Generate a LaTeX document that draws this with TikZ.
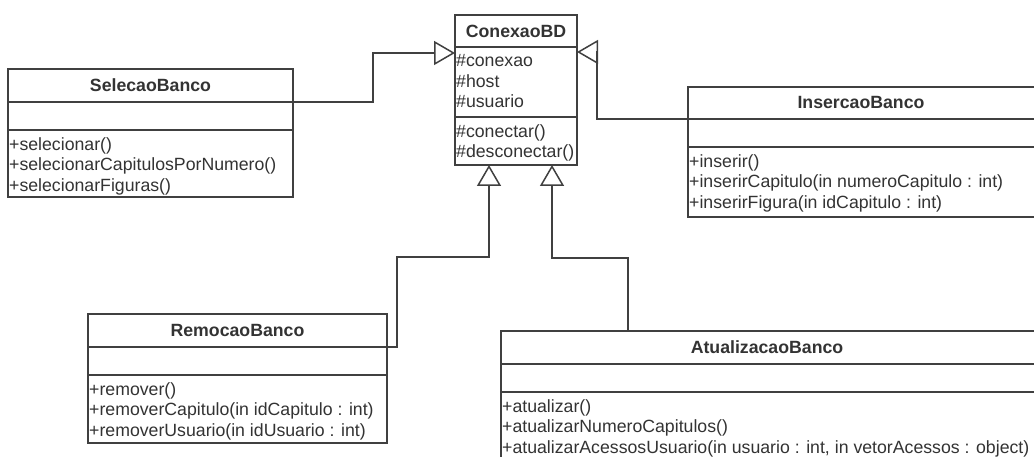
\documentclass[tikz,border=0pt]{standalone}
\usepackage{fontspec}
\setmainfont{Liberation Sans}
\usetikzlibrary{arrows.meta}

\begin{document}
\begin{tikzpicture}[x=1pt, y=-1pt, font=\fontsize{17.7}{20.7}\selectfont]
  \definecolor{ink}{HTML}{404040}
  \definecolor{txt}{HTML}{333333}
  \tikzset{
    classbox/.style={draw=ink, line width=1.5pt, fill=white, anchor=north west, inner sep=0pt, outer sep=0pt},
    classname/.style={font=\fontsize{17.7}{20.7}\selectfont\bfseries, text=txt},
    members/.style={anchor=north west, align=left, inner sep=0pt, text=txt},
    divider/.style={draw=ink, line width=1.5pt},
    generalization/.style={draw=ink, line width=1.5pt, -{Triangle[open, length=21pt, width=24pt]}}
  }
  \useasboundingbox (0,0) rectangle (1034,457);
  \clip (0,0) rectangle (1034,457);
  \fill[white] (0,0) rectangle (1034,457);

  % base class
  \node[classbox, minimum width=122pt, minimum height=150pt] (conexao) at (455,15) {};
  \node[classname] (conexaoName) at ([yshift=-16pt]conexao.north) {ConexaoBD};
  \draw[divider] ([yshift=-32pt]conexao.north west) -- ([yshift=-32pt]conexao.north east);
  \draw[divider] ([yshift=-102pt]conexao.north west) -- ([yshift=-102pt]conexao.north east);
  \node[members] (conexaoAttrs) at ([xshift=1pt, yshift=-39pt]conexao.north west) {\#conexao\\\#host\\\#usuario};
  \node[members] (conexaoOps) at ([xshift=1pt, yshift=-109pt]conexao.north west) {\#conectar()\\\#desconectar()};

  % selecao
  \node[classbox, minimum width=285pt, minimum height=128pt] (selecao) at (8,69) {};
  \node[classname] (selecaoName) at ([yshift=-16.5pt]selecao.north) {SelecaoBanco};
  \draw[divider] ([yshift=-33pt]selecao.north west) -- ([yshift=-33pt]selecao.north east);
  \draw[divider] ([yshift=-61pt]selecao.north west) -- ([yshift=-61pt]selecao.north east);
  \node[members] (selecaoOps) at ([xshift=1pt, yshift=-68pt]selecao.north west) {+selecionar()\\+selecionarCapitulosPorNumero()\\+selecionarFiguras()};

  % insercao
  \node[classbox, minimum width=360pt, minimum height=130pt] (insercao) at (688,87) {};
  \node[classname] (insercaoName) at ([yshift=-16pt]insercao.north west -| 861,0) {InsercaoBanco};
  \draw[divider] ([yshift=-32pt]insercao.north west) -- ([yshift=-32pt]insercao.north east);
  \draw[divider] ([yshift=-60pt]insercao.north west) -- ([yshift=-60pt]insercao.north east);
  \node[members] (insercaoOps) at ([xshift=1pt, yshift=-67pt]insercao.north west) {+inserir()\\+inserirCapitulo(in numeroCapitulo : int)\\+inserirFigura(in idCapitulo : int)};

  % remocao
  \node[classbox, minimum width=299pt, minimum height=129pt] (remocao) at (88,314) {};
  \node[classname] (remocaoName) at ([yshift=-16.5pt]remocao.north) {RemocaoBanco};
  \draw[divider] ([yshift=-33pt]remocao.north west) -- ([yshift=-33pt]remocao.north east);
  \draw[divider] ([yshift=-61pt]remocao.north west) -- ([yshift=-61pt]remocao.north east);
  \node[members] (remocaoOps) at ([xshift=1pt, yshift=-68pt]remocao.north west) {+remover()\\+removerCapitulo(in idCapitulo : int)\\+removerUsuario(in idUsuario : int)};

  % atualizacao
  \node[classbox, minimum width=560pt, minimum height=150pt] (atualizacao) at (501,331) {};
  \node[classname] (atualizacaoName) at ([yshift=-16.5pt]atualizacao.north west -| 767,0) {AtualizacaoBanco};
  \draw[divider] ([yshift=-33pt]atualizacao.north west) -- ([yshift=-33pt]atualizacao.north east);
  \draw[divider] ([yshift=-61pt]atualizacao.north west) -- ([yshift=-61pt]atualizacao.north east);
  \node[members] (atualizacaoOps) at ([xshift=1pt, yshift=-68pt]atualizacao.north west) {+atualizar()\\+atualizarNumeroCapitulos()\\+atualizarAcessosUsuario(in usuario : int, in vetorAcessos : object)};

  % generalizations
  \draw[generalization] ([yshift=-33pt]selecao.north east) -- ++(80,0) |- ([yshift=-38pt]conexao.north west);
  \draw[generalization] ([yshift=-32pt]insercao.north west) -- ++(-91,0) |- ([yshift=-37pt]conexao.north east);
  \draw[generalization] ([yshift=-33pt]remocao.north east) -- ++(10,0) -- ++(0,-90) -| ([xshift=34pt]conexao.south west);
  \draw[generalization] ([xshift=127pt]atualizacao.north west) -- ++(0,-73) -| ([xshift=97pt]conexao.south west);
\end{tikzpicture}
\end{document}
